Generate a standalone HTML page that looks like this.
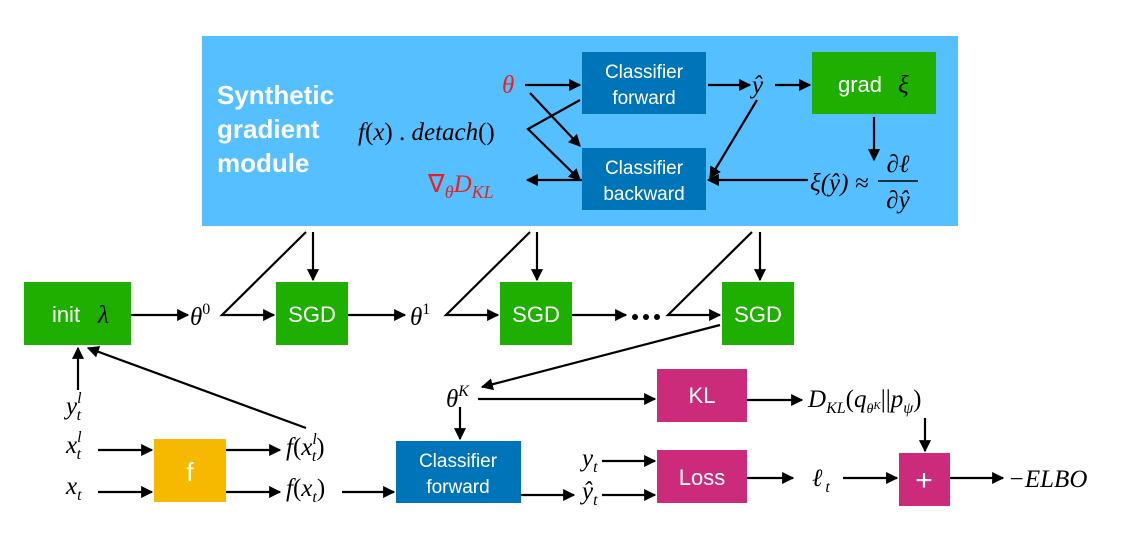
<!DOCTYPE html>
<html><head><meta charset="utf-8"><style>
body{margin:0;background:#fff;}
svg{display:block;}
.bx{font-family:"Liberation Sans",sans-serif;fill:#fff;font-size:19px;text-anchor:middle;}
.m{font-family:"Liberation Serif",serif;font-style:italic;font-size:25px;fill:#000;}
.r{fill:#e8231f;}
.ln{stroke:#000;stroke-width:2.2;fill:none;}
</style></head><body>
<svg width="1124" height="541" viewBox="0 0 1124 541" xmlns="http://www.w3.org/2000/svg">
<defs><marker id="a" viewBox="0 0 10 10" refX="9" refY="5" markerWidth="5.5" markerHeight="5.5" orient="auto"><path d="M0,0L10,5L0,10z" fill="#000"/></marker></defs>
<rect x="202" y="36" width="756" height="190" fill="#55bfff"/>
<text font-family="Liberation Sans,sans-serif" font-weight="bold" font-size="26" fill="#fff" x="217" y="104">Synthetic</text>
<text font-family="Liberation Sans,sans-serif" font-weight="bold" font-size="26" fill="#fff" x="217" y="138">gradient</text>
<text font-family="Liberation Sans,sans-serif" font-weight="bold" font-size="26" fill="#fff" x="217" y="172">module</text>
<g>
<rect x="582" y="52" width="124" height="62" fill="#0074b8"/><text class="bx" x="644" y="78">Classifier</text><text class="bx" x="644" y="104">forward</text>
<rect x="582" y="148" width="124" height="62" fill="#0074b8"/><text class="bx" x="644" y="174">Classifier</text><text class="bx" x="644" y="200">backward</text>
<rect x="812" y="52" width="124" height="62" fill="#1eaf00"/><text class="bx" x="860" y="92" style="font-size:22px">grad</text><text class="m" x="898" y="93">ξ</text>
<rect x="24" y="282" width="107" height="63" fill="#1eaf00"/><text class="bx" x="66" y="322" style="font-size:22px">init</text><text class="m" x="98" y="323">λ</text>
<rect x="276" y="282" width="72" height="63" fill="#1eaf00"/><text class="bx" x="312" y="322" style="font-size:22px">SGD</text>
<rect x="500" y="282" width="72" height="63" fill="#1eaf00"/><text class="bx" x="536" y="322" style="font-size:22px">SGD</text>
<rect x="722" y="282" width="72" height="63" fill="#1eaf00"/><text class="bx" x="758" y="322" style="font-size:22px">SGD</text>
<rect x="154" y="439" width="72" height="63" fill="#f7b800"/><text class="bx" x="190" y="481" style="font-size:26px">f</text>
<rect x="396" y="441" width="125" height="62" fill="#0074b8"/><text class="bx" x="458" y="467">Classifier</text><text class="bx" x="458" y="493">forward</text>
<rect x="657" y="369" width="90" height="53" fill="#cc2a7a"/><text class="bx" x="702" y="403" style="font-size:22px">KL</text>
<rect x="657" y="450" width="90" height="53" fill="#cc2a7a"/><text class="bx" x="702" y="485" style="font-size:22px">Loss</text>
<rect x="899" y="453" width="51" height="53" fill="#cc2a7a"/><text class="bx" x="924" y="490" style="font-size:30px">+</text>
</g>
<g>
<text class="m r" x="502" y="93" font-size="27">θ</text>
<text class="m" x="358" y="140" font-size="27"><tspan>f</tspan><tspan font-style="normal">(</tspan>x<tspan font-style="normal">) . </tspan>detach<tspan font-style="normal">()</tspan></text>
<text class="m r" x="428" y="192" font-size="28"><tspan font-style="normal">∇</tspan><tspan font-size="18" dy="6">θ</tspan><tspan dy="-6">D</tspan><tspan font-size="18" dy="6">KL</tspan></text>
<text class="m" x="752" y="93" font-size="27">ŷ</text>
<text class="m" x="810" y="191" font-size="26" font-style="normal"><tspan font-style="italic">ξ</tspan>(<tspan font-style="italic">ŷ</tspan>) ≈</text>
<text class="m" x="898" y="172" text-anchor="middle" font-size="26">∂ℓ</text>
<line x1="878" y1="181" x2="918" y2="181" stroke="#000" stroke-width="1.4"/>
<text class="m" x="898" y="208" text-anchor="middle" font-size="26">∂ŷ</text>
<text class="m" x="190" y="325">θ<tspan font-size="16" dy="-11" font-style="normal">0</tspan></text>
<text class="m" x="410" y="325">θ<tspan font-size="16" dy="-11" font-style="normal">1</tspan></text>
<g><circle cx="635" cy="317" r="3"/><circle cx="646" cy="317" r="3"/><circle cx="657" cy="317" r="3"/></g>
<text class="m" x="446" y="407">θ<tspan font-size="16" dy="-11">K</tspan></text>
<text class="m" x="66" y="414">y<tspan font-size="16" dy="-11">l</tspan><tspan font-size="16" dx="-5" dy="17">t</tspan></text>
<text class="m" x="66" y="453">x<tspan font-size="16" dy="-11">l</tspan><tspan font-size="16" dx="-5" dy="17">t</tspan></text>
<text class="m" x="66" y="494">x<tspan font-size="16" dy="6">t</tspan></text>
<text class="m" x="286" y="455">f<tspan font-style="normal">(</tspan>x<tspan font-size="16" dy="-11">l</tspan><tspan font-size="16" dx="-5" dy="17">t</tspan><tspan dy="-6" font-style="normal">)</tspan></text>
<text class="m" x="286" y="496">f<tspan font-style="normal">(</tspan>x<tspan font-size="16" dy="6">t</tspan><tspan dy="-6" font-style="normal">)</tspan></text>
<text class="m" x="582" y="466">y<tspan font-size="16" dy="6">t</tspan></text>
<text class="m" x="582" y="499">ŷ<tspan font-size="16" dy="6">t</tspan></text>
<text class="m" x="808" y="407">D<tspan font-size="16" dy="6">KL</tspan><tspan dy="-6" font-style="normal">(</tspan>q<tspan font-size="14" dy="6">θ<tspan font-size="11" dy="-4">K</tspan></tspan><tspan dy="-2" font-style="normal">||</tspan>p<tspan font-size="16" dy="6">ψ</tspan><tspan dy="-6" font-style="normal">)</tspan></text>
<text class="m" x="812" y="486">ℓ<tspan font-size="16" dx="3" dy="6">t</tspan></text>
<text class="m" x="1008" y="487">−ELBO</text>
</g>
<g class="ln" marker-end="url(#a)">
<line x1="525" y1="85" x2="580" y2="85"/>
<line x1="530" y1="93" x2="580" y2="146"/>
<polyline points="580,100 528,129 580,180"/>
<line x1="582" y1="180" x2="527" y2="180"/>
<line x1="708" y1="85" x2="750" y2="85"/>
<line x1="775" y1="85" x2="810" y2="85"/>
<line x1="757" y1="100" x2="710" y2="178"/>
<line x1="874" y1="117" x2="874" y2="160"/>
<line x1="808" y1="180" x2="708" y2="180"/>
<line x1="131" y1="315" x2="188" y2="315"/>
<polyline points="306,232 222,315 274,315"/>
<line x1="313" y1="232" x2="313" y2="280"/>
<line x1="348" y1="315" x2="405" y2="315"/>
<polyline points="530,232 446,315 498,315"/>
<line x1="537" y1="232" x2="537" y2="280"/>
<line x1="572" y1="315" x2="626" y2="315"/>
<polyline points="752,232 668,315 720,315"/>
<line x1="760" y1="232" x2="760" y2="280"/>
<line x1="720" y1="325" x2="482" y2="387"/>
<line x1="478" y1="399" x2="655" y2="399"/>
<line x1="460" y1="407" x2="460" y2="439"/>
<line x1="342" y1="492" x2="394" y2="492"/>
<line x1="521" y1="495" x2="574" y2="495"/>
<line x1="602" y1="461" x2="655" y2="461"/>
<line x1="602" y1="495" x2="655" y2="495"/>
<line x1="747" y1="400" x2="802" y2="400"/>
<line x1="925" y1="418" x2="925" y2="451"/>
<line x1="747" y1="478" x2="793" y2="478"/>
<line x1="843" y1="478" x2="897" y2="478"/>
<line x1="950" y1="478" x2="1003" y2="478"/>
<line x1="98" y1="450" x2="152" y2="450"/>
<line x1="98" y1="492" x2="152" y2="492"/>
<line x1="226" y1="450" x2="280" y2="450"/>
<line x1="226" y1="492" x2="280" y2="492"/>
<line x1="306" y1="428" x2="88" y2="348"/>
<line x1="78" y1="390" x2="78" y2="348"/>
</g>
</svg>
</body></html>
